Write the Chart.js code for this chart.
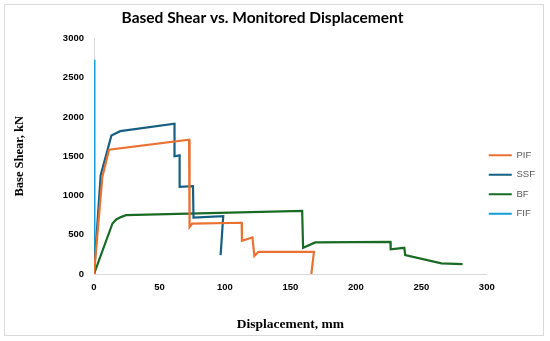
<!DOCTYPE html>
<html><head><meta charset="utf-8">
<script src="https://cdn.jsdelivr.net/npm/chart.js@4.4.1/dist/chart.umd.min.js"></script>
<style>
html,body{margin:0;padding:0;background:#fff;}
#wrap{position:absolute;left:0;top:0;width:550px;height:341px;}
#frame{position:absolute;left:4px;top:4px;width:540px;height:332px;border:1px solid #d9d9d9;box-sizing:border-box;pointer-events:none;}
</style></head>
<body>
<div id="wrap"><canvas id="c" width="550" height="341"></canvas></div>
<div id="frame"></div>
<script>
const seriesNames = ['PIF','SSF','BF','FIF'];
const pifX = [0, 6.4, 11.5, 72.6, 73, 75, 112.8, 113, 121, 122.5, 125.6, 168, 166];
const pifY = [0, 1240, 1585, 1712, 600, 643, 653, 423, 466, 229, 283, 283, 0];
const ssfX = [0, 5.1, 13.3, 20, 61.5, 61.5, 65.4, 65.4, 75.6, 76, 98.7, 96.7];
const ssfY = [0, 1258, 1766, 1820, 1915, 1500, 1512, 1110, 1118, 720, 737, 241];
const bfX = [0, 14.1, 17, 20.5, 24.4, 159, 159.7, 169, 226.4, 226.6, 237, 237.7, 265.4, 281.5];
const bfY = [0, 644, 695, 725, 750, 804, 334, 403, 410, 314, 334, 241, 136, 127];
const fifX = [0, 0.3];
const fifY = [0, 2730];
const xTicks = [0, 50, 100, 150, 200, 250, 300];
const yTicks = [0, 500, 1000, 1500, 2000, 2500, 3000];
const colors = ['#E97132', '#156082', '#196B24', '#0F9ED5'];

function pts(xs, ys){ return xs.map((x,i)=>({x:x, y:ys[i]})); }
const allX = [pifX, ssfX, bfX, fifX];
const allY = [pifY, ssfY, bfY, fifY];
const tickFont = { family: '"Liberation Sans", Arial, sans-serif', size: 9.5, weight: 'bold' };

const shiftBlocks = {
  id: 'shiftBlocks',
  afterLayout(chart) {
    if (chart.legend) { chart.legend.left -= 8; chart.legend.right -= 8; }
    if (chart.titleBlock) { chart.titleBlock.left -= 17; chart.titleBlock.right -= 17; }
  }
};

new Chart(document.getElementById('c'), {
  type: 'scatter',
  data: {
    datasets: seriesNames.map((n,i)=>({
      label: n,
      data: pts(allX[i], allY[i]),
      showLine: true,
      borderColor: colors[i],
      backgroundColor: colors[i],
      borderWidth: 2.2,
      pointRadius: 0,
      tension: 0,
      fill: false
    }))
  },
  plugins: [shiftBlocks],
  options: {
    responsive: false,
    animation: false,
    devicePixelRatio: 1,
    layout: { padding: { left: 6, right: -3, top: 6, bottom: 8 } },
    plugins: {
      title: {
        display: true,
        text: 'Based Shear vs. Monitored Displacement',
        color: '#000',
        font: { family: 'Lato, "Open Sans", Arial, sans-serif', size: 15.5, weight: 'bold' },
        padding: { top: 3, bottom: 11 }
      },
      legend: {
        position: 'right',
        align: 'center',
        title: { display: true, text: ' ', padding: 9, font: { size: 10 } },
        labels: {
          usePointStyle: true,
          pointStyle: 'line',
          pointStyleWidth: 23,
          boxHeight: 2,
          color: '#595959',
          font: { family: '"Liberation Sans", Arial, sans-serif', size: 9.5 },
          padding: 10
        }
      },
      tooltip: { enabled: false }
    },
    scales: {
      x: {
        type: 'linear',
        min: 0, max: 300,
        afterBuildTicks: s => { s.ticks = xTicks.map(v=>({value:v})); },
        grid: { display: false, drawTicks: false },
        border: { display: true, color: '#d9d9d9', width: 1 },
        ticks: { color: '#000', padding: 8, font: tickFont, callback: v => String(v) },
        title: { display: true, text: 'Displacement, mm', color: '#000', padding: { top: 4, bottom: 0 },
                 font: { family: '"Liberation Serif", "Times New Roman", serif', size: 13.5, weight: 'bold' } },
        afterFit: s => { s.height = 59; }
      },
      y: {
        type: 'linear',
        min: 0, max: 3000,
        afterBuildTicks: s => { s.ticks = yTicks.map(v=>({value:v})); },
        grid: { display: false, drawTicks: false },
        border: { display: true, color: '#d9d9d9', width: 1 },
        ticks: { color: '#000', padding: 10, font: tickFont, callback: v => String(v) },
        title: { display: true, text: 'Base Shear, kN', color: '#000', padding: { top: 6, bottom: 4 },
                 font: { family: '"Liberation Serif", "Times New Roman", serif', size: 12.5, weight: 'bold' } },
        afterFit: s => { s.width = 88; }
      }
    }
  }
});
</script>
</body></html>
